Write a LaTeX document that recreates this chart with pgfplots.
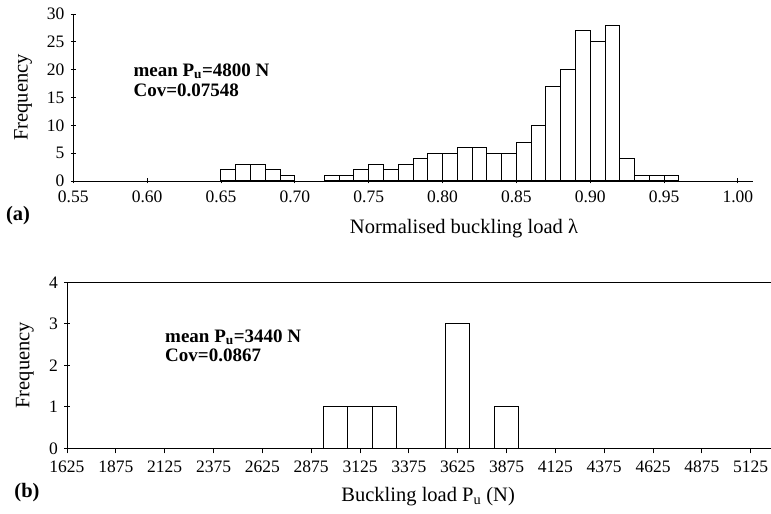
\documentclass[border=0pt]{standalone}
\usepackage{pgfplots}
\pgfplotsset{compat=1.18}
\pgfplotsset{
  every non boxed x axis/.append style={x axis line style=-},
  every non boxed y axis/.append style={y axis line style=-},
}
\usepackage{fontspec}
\setmainfont{Liberation Serif}
\begin{document}
\begin{tikzpicture}[x=1pt,y=1pt]
\useasboundingbox (0,0) rectangle (771,514);
\pgfplotsset{
  common/.style={
    scale only axis,
    /pgf/number format/assume math mode=true,
    tick align=outside,
    major tick length=5pt,
    axis line style={-, line width=0.9pt},
    every tick/.style={black, line width=0.9pt},
    tick label style={font=\fontsize{17.5}{20}\selectfont},
    xticklabel style={yshift=-4pt},
    yticklabel style={xshift=-3pt},
  },
}
% ---------- (a) ----------
\begin{axis}[common,
  at={(73.3pt,333pt)}, anchor=south west,
  width=679.4pt, height=167pt,
  axis x line=bottom, axis y line=left,
  xmin=0.55, xmax=1.01, ymin=0, ymax=30,
  xtick={0.55,0.60,0.65,0.70,0.75,0.80,0.85,0.90,0.95,1.00},
  ytick={0,5,10,15,20,25,30},
  xticklabel style={/pgf/number format/.cd, fixed, fixed zerofill, precision=2},
  xlabel={Normalised buckling load λ},
  ylabel={Frequency},
  every axis x label/.style={at={(axis description cs:0.575,-0.285)}, anchor=center, font=\fontsize{20.5}{24}\selectfont},
  every axis y label/.style={at={(axis description cs:-0.074,0.5)}, rotate=90, anchor=center, font=\fontsize{20.5}{24}\selectfont},
]
\addplot[ybar interval, fill=white, draw=black, line width=1.0pt] coordinates {
  (0.65,2) (0.66,3) (0.67,3) (0.68,2) (0.69,1) (0.70,1)
};
\addplot[ybar interval, fill=white, draw=black, line width=1.0pt] coordinates {
  (0.72,1) (0.73,1) (0.74,2) (0.75,3) (0.76,2) (0.77,3) (0.78,4) (0.79,5)
  (0.80,5) (0.81,6) (0.82,6) (0.83,5) (0.84,5) (0.85,7) (0.86,10) (0.87,17)
  (0.88,20) (0.89,27) (0.90,25) (0.91,28) (0.92,4) (0.93,1) (0.94,1) (0.95,1)
  (0.96,1)
};
\node[anchor=west, align=left, font=\bfseries\fontsize{19}{20}\selectfont]
  at (rel axis cs:0.0835,0.605) {mean P\textsubscript{u}=4800 N\\Cov=0.07548};
\end{axis}
% ---------- (b) ----------
\begin{axis}[common,
  at={(67pt,65.7pt)}, anchor=south west,
  width=704pt, height=166pt,
  axis x line=box, axis y line=left,
  xtick pos=bottom,
  xmin=1625, xmax=5229, ymin=0, ymax=4,
  xtick={1625,1875,2125,2375,2625,2875,3125,3375,3625,3875,4125,4375,4625,4875,5125},
  ytick={0,1,2,3,4},
  xticklabel style={/pgf/number format/.cd, set thousands separator={}},
  xlabel={Buckling load P\textsubscript{u} (N)},
  ylabel={Frequency},
  every axis x label/.style={at={(axis description cs:0.513,-0.29)}, anchor=center, font=\fontsize{20.5}{24}\selectfont},
  every axis y label/.style={at={(axis description cs:-0.06,0.5)}, rotate=90, anchor=center, font=\fontsize{20.5}{24}\selectfont},
]
\addplot[ybar interval, fill=white, draw=black, line width=1.0pt] coordinates {
  (2937.5,1) (3062.5,1) (3187.5,1) (3312.5,1)
};
\addplot[ybar interval, fill=white, draw=black, line width=1.0pt] coordinates {
  (3562.5,3) (3687.5,3)
};
\addplot[ybar interval, fill=white, draw=black, line width=1.0pt] coordinates {
  (3812.5,1) (3937.5,1)
};
\node[anchor=west, align=left, font=\bfseries\fontsize{19}{19}\selectfont]
  at (rel axis cs:0.1345,0.62) {mean P\textsubscript{u}=3440 N\\Cov=0.0867};
\end{axis}
\node[font=\bfseries\fontsize{20.5}{24}\selectfont] at (18,298) {(a)};
\node[font=\bfseries\fontsize{20.5}{24}\selectfont] at (27,21) {(b)};
\end{tikzpicture}
\end{document}
